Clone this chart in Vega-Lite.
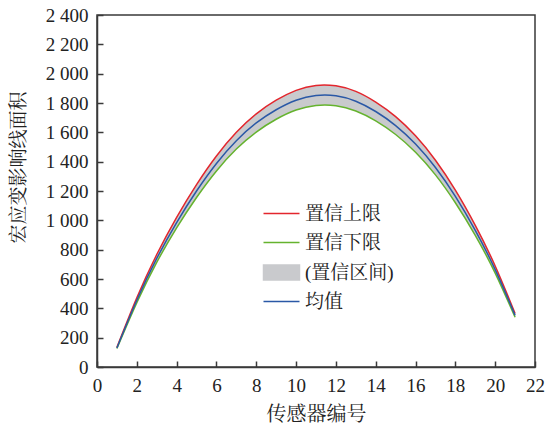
{
  "$schema": "https://vega.github.io/schema/vega-lite/v6.json",
  "width": 438,
  "height": 352,
  "autosize": {"type": "none"},
  "padding": {"left": 97, "top": 15, "right": 12, "bottom": 58},
  "background": "white",
  "config": {
    "font": "Liberation Serif, Noto Serif CJK SC, Noto Sans CJK SC",
    "view": {"stroke": "#3a3a3a", "strokeWidth": 1.5},
    "axis": {
      "grid": false,
      "domainColor": "#3a3a3a",
      "domainWidth": 1.5,
      "tickColor": "#3a3a3a",
      "tickWidth": 1.5,
      "labelOverlap": false,
      "labelFont": "Liberation Serif",
      "labelFontSize": 19,
      "labelColor": "#222222",
      "titleFont": "Liberation Serif, Noto Serif CJK SC, Noto Sans CJK SC",
      "titleFontSize": 19,
      "titleFontWeight": "normal",
      "titleColor": "#222222"
    }
  },
  "data": {
    "values": [
      {"x": 1, "mean": 130, "upper": 134, "lower": 126},
      {"x": 2, "mean": 455, "upper": 472, "lower": 438},
      {"x": 3, "mean": 740, "upper": 767, "lower": 713},
      {"x": 4, "mean": 985, "upper": 1021, "lower": 949},
      {"x": 5, "mean": 1200, "upper": 1244, "lower": 1156},
      {"x": 6, "mean": 1388, "upper": 1439, "lower": 1337},
      {"x": 7, "mean": 1543, "upper": 1600, "lower": 1486},
      {"x": 8, "mean": 1664, "upper": 1726, "lower": 1602},
      {"x": 9, "mean": 1754, "upper": 1819, "lower": 1689},
      {"x": 10, "mean": 1819, "upper": 1886, "lower": 1752},
      {"x": 11, "mean": 1851, "upper": 1920, "lower": 1783},
      {"x": 12, "mean": 1849, "upper": 1917, "lower": 1781},
      {"x": 13, "mean": 1812, "upper": 1879, "lower": 1745},
      {"x": 14, "mean": 1742, "upper": 1806, "lower": 1678},
      {"x": 15, "mean": 1646, "upper": 1707, "lower": 1585},
      {"x": 16, "mean": 1520, "upper": 1576, "lower": 1464},
      {"x": 17, "mean": 1360, "upper": 1410, "lower": 1310},
      {"x": 18, "mean": 1163, "upper": 1206, "lower": 1120},
      {"x": 19, "mean": 932, "upper": 966, "lower": 898},
      {"x": 20, "mean": 664, "upper": 689, "lower": 640},
      {"x": 21, "mean": 352, "upper": 365, "lower": 339}
    ]
  },
  "encoding": {
    "x": {
      "field": "x",
      "type": "quantitative",
      "scale": {"domain": [0, 22], "nice": false, "zero": false},
      "axis": {
        "values": [0, 2, 4, 6, 8, 10, 12, 14, 16, 18, 20, 22],
        "tickSize": -6,
        "labelPadding": 15,
        "labelFlush": false,
        "labelOverlap": false,
        "title": "传感器编号",
        "titleFontSize": 20,
        "titlePadding": 9
      }
    }
  },
  "layer": [
    {
      "mark": {"type": "area", "interpolate": "natural"},
      "encoding": {
        "y": {
          "field": "lower",
          "type": "quantitative",
          "scale": {"domain": [0, 2400], "nice": false},
          "axis": {
            "values": [0, 200, 400, 600, 800, 1000, 1200, 1400, 1600, 1800, 2000, 2200, 2400],
            "tickSize": -6,
            "labelPadding": 15,
            "labelFlush": false,
            "labelOverlap": false,
            "labelExpr": "replace(format(datum.value, ','), ',', ' ')",
            "title": "宏应变影响线面积",
            "titleAngle": -90,
            "titleAlign": "center",
            "titleBaseline": "middle",
            "titleX": -79,
            "titleY": 152
          }
        },
        "y2": {"field": "upper"},
        "color": {
          "datum": "band",
          "type": "nominal",
          "scale": {
            "domain": ["upper", "lower", "band", "mean"],
            "range": ["#e3262d", "#65b32e", "#c9cacd", "#2a58a6"]
          }
        }
      }
    },
    {
      "transform": [{"fold": ["upper", "lower", "mean"], "as": ["key", "value"]}],
      "mark": {"type": "line", "interpolate": "natural", "strokeWidth": 1.5},
      "encoding": {
        "y": {
          "field": "value",
          "type": "quantitative",
          "axis": {
            "values": [0, 200, 400, 600, 800, 1000, 1200, 1400, 1600, 1800, 2000, 2200, 2400],
            "tickSize": -6,
            "labelPadding": 15,
            "labelFlush": false,
            "labelOverlap": false,
            "labelExpr": "replace(format(datum.value, ','), ',', ' ')",
            "title": "宏应变影响线面积",
            "titleAngle": -90,
            "titleAlign": "center",
            "titleBaseline": "middle",
            "titleX": -79,
            "titleY": 152
          }
        },
        "color": {
          "field": "key",
          "type": "nominal",
          "scale": {
            "domain": ["upper", "lower", "band", "mean"],
            "range": ["#e3262d", "#65b32e", "#c9cacd", "#2a58a6"]
          },
          "legend": {
            "title": null,
            "orient": "none",
            "legendX": 175,
            "legendY": 189,
            "direction": "vertical",
            "labelFont": "Liberation Serif, Noto Serif CJK SC, Noto Sans CJK SC",
            "labelFontSize": 19,
            "labelColor": "#222222",
            "labelOffset": 14,
            "rowPadding": 9,
            "symbolSize": 144,
            "symbolStrokeWidth": 1.5,
            "labelExpr": "datum.value === 'upper' ? '置信上限' : datum.value === 'lower' ? '置信下限' : datum.value === 'band' ? '(置信区间)' : '均值'",
            "encode": {
              "symbols": {
                "update": {
                  "shape": {"signal": "datum.value === 'band' ? 'M-3,-1.25H3V1.25H-3Z' : 'M-3,0H3'"},
                  "fill": {"signal": "datum.value === 'band' ? '#c9cacd' : 'transparent'"},
                  "stroke": {"signal": "datum.value === 'band' ? 'transparent' : datum.value === 'upper' ? '#e3262d' : datum.value === 'lower' ? '#65b32e' : '#2a58a6'"},
                  "strokeWidth": {"value": 1.5}
                }
              }
            }
          }
        }
      }
    }
  ]
}
